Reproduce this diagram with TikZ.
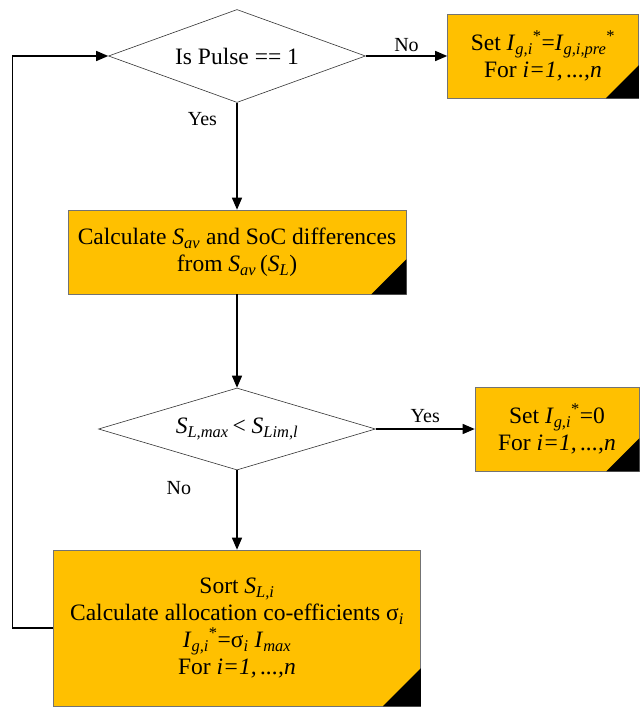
\documentclass[tikz,border=0pt]{standalone}
\usepackage{fontspec}
\setmainfont{Liberation Serif}
\usetikzlibrary{shapes.geometric,arrows.meta}
\definecolor{boxgold}{RGB}{255,192,0}
\newcommand{\sub}[1]{\textsubscript{\textit{#1}}}
\newcommand{\ist}{\textsuperscript{*}}

\begin{document}
\begin{tikzpicture}
    [
        x=1pt, y=-1pt,
        every node/.style={font=\fontsize{23.5}{27}\selectfont},
        decision/.style={diamond, draw=black!80, fill=white, inner sep=0pt, line width=0.6pt},
        process/.style={rectangle, draw=black!55, fill=boxgold, align=center, inner sep=0pt, line width=0.6pt},
        flow/.style={-{Triangle[length=12pt,width=10pt]}, line width=1.3pt},
        lbl/.style={font=\fontsize{20}{22}\selectfont},
    ]
  \useasboundingbox (0,0) rectangle (640,708);

  % Nodes
  \node [decision, shape aspect=2.76, minimum width=257pt, minimum height=93pt] (pulse) at (237,56) {Is Pulse == 1};
  \node [process, minimum width=191pt, minimum height=84pt] (hold) at (543,56)
    {Set \textit{I}\sub{g,i}\ist=\textit{I}\sub{g,i,pre}\ist\\For \textit{i=1,\,...,n}};
  \node [process, minimum width=338pt, minimum height=84pt] (avg) at (237,252)
    {Calculate \textit{S}\sub{av} and SoC differences\\from \textit{S}\sub{av}\,(\textit{S}\sub{L})};
  \node [decision, shape aspect=3.38, minimum width=277pt, minimum height=82pt] (limit) at (237,429)
    {\textit{S}\sub{L,max}\,< \textit{S}\sub{Lim,l}};
  \node [process, minimum width=164pt, minimum height=84pt] (zero) at (557,429)
    {Set \textit{I}\sub{g,i}\ist=0\\For \textit{i=1,\,...,n}};
  \node [process, minimum width=367pt, minimum height=156pt] (sort) at (237,628)
    {Sort \textit{S}\sub{L,i}\\Calculate allocation co-efficients σ\sub{i}\\
     \textit{I}\sub{g,i}\ist=σ\sub{i}\ \textit{I}\sub{max}\\For \textit{i=1,\,...,n}};

  % Corner marks
  \foreach \n/\s in {hold/33, avg/35, zero/33, sort/38}
    \fill (\n.south east) -- ++(-\s,0) -- ++(\s,-\s) -- cycle;

  % Connections
  \draw [flow] (pulse.east) -- node[lbl, above] {No} (hold.west);
  \draw [flow] (pulse.south) -- node[lbl, pos=0.15, left=16pt] {Yes} (avg.north);
  \draw [flow] (avg.south) -- (limit.north);
  \draw [flow] (limit.east) -- node[lbl, above=2pt] {Yes} (zero.west);
  \draw [flow] (limit.south) -- node[lbl, pos=0.22, left=42pt] {No} (sort.north);
  \draw [flow] (sort.west) -- ++(-41,0) |- (pulse.west);
\end{tikzpicture}
\end{document}
